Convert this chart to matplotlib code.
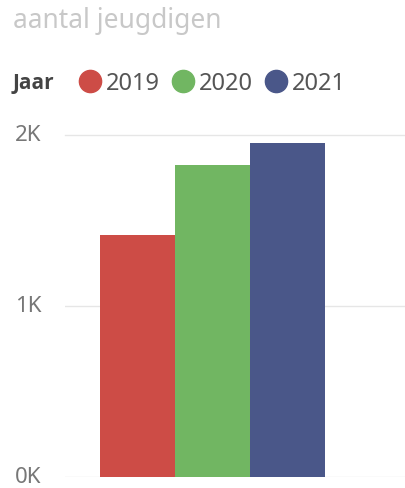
import matplotlib
matplotlib.use("Agg")
import matplotlib.pyplot as plt
from matplotlib.lines import Line2D
from matplotlib.transforms import ScaledTranslation

plt.rcParams['font.family'] = ['Noto Sans', 'DejaVu Sans']

years = ["2019", "2020", "2021"]
values = [1415, 1825, 1955]
colors = ["#CD4C46", "#71B662", "#4A5789"]
yticks = [0, 1000, 2000]
ytick_labels = ["0K", "1K", "2K"]

W, H = 406, 489
fig = plt.figure(figsize=(W / 100, H / 100), dpi=100)
ax = fig.add_axes([65 / W, 1 - 478 / H, (406 - 65) / W, (478 - 136) / H])

x = list(range(len(years)))
ax.bar(x, values, width=1.0, color=colors, zorder=3)
ax.set_xlim(-0.967, 3.58)
ax.set_ylim(0, 2000)
ax.set_yticks(yticks)
ax.set_yticklabels(ytick_labels, color="#777777", fontsize=16)
ax.tick_params(axis="y", length=0, pad=17)
ax.set_xticks([])
ax.grid(axis="y", color="#E6E6E6", linewidth=1, zorder=0)
ax.set_axisbelow(True)
for s in ax.spines.values():
    s.set_visible(False)
ax.yaxis.get_gridlines()[-1].set_clip_on(False)
for lab in ax.get_yticklabels():
    lab.set_transform(lab.get_transform() + ScaledTranslation(0, 3 / 100, fig.dpi_scale_trans))

fig.text(13 / W, 1 - 21 / H, "aantal jeugdigen", color="#C8C8C8", fontsize=19,
         va="center", ha="left")
fig.text(13 / W, 1 - 83 / H, "Jaar", color="#444444", fontsize=15, fontweight="bold",
         family=["Open Sans", "DejaVu Sans"], va="center", ha="left")

handles = [Line2D([], [], marker="o", linestyle="none", markersize=16,
                  markerfacecolor=c, markeredgecolor=c) for c in colors]
fig.legend(handles, years, loc="center left", bbox_to_anchor=(79 / W, 1 - 84 / H),
           ncols=3, frameon=False, handlelength=0.94, handletextpad=0.21,
           columnspacing=0.5, fontsize=17, labelcolor="#555555", borderaxespad=0,
           borderpad=0)

fig.savefig("out.png", dpi=100)
